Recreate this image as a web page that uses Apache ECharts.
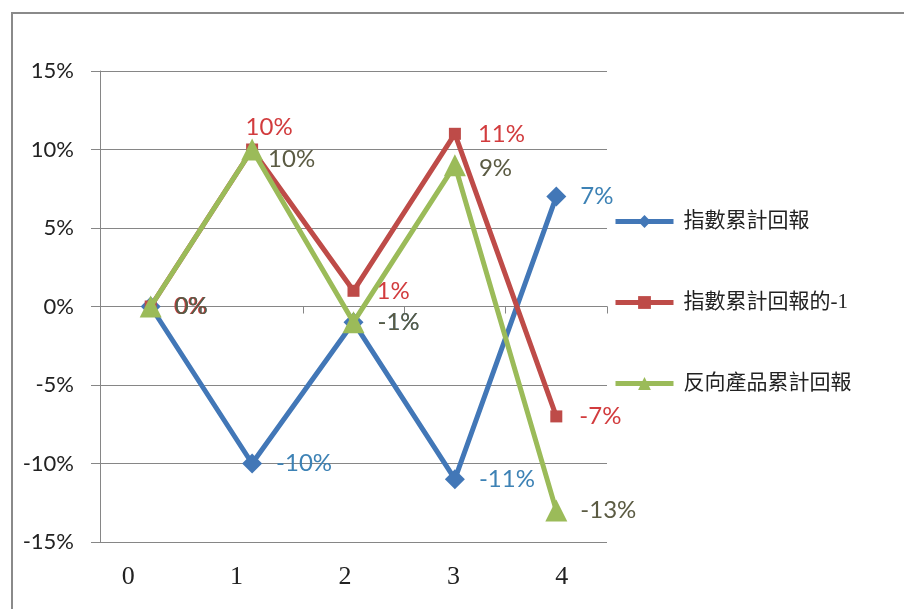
<!DOCTYPE html>
<html><head><meta charset="utf-8">
<script src="https://cdn.jsdelivr.net/npm/echarts@6/dist/echarts.min.js"></script>
<style>html,body{margin:0;padding:0;background:#fff}#c{width:904px;height:609px}</style>
</head><body><div id="c"></div>
<script>
const categories = ['0', '1', '2', '3', '4'];
const seriesNames = ['指數累計回報', '指數累計回報的-1', '反向產品累計回報'];
const indexReturn = [0, -10, -1, -11, 7];
const indexReturnNeg = [0, 10, 1, 11, -7];
const inverseReturn = [0, 10, -1, 9, -13];
const yTicks = [-15, -10, -5, 0, 5, 10, 15];

const chart = echarts.init(document.getElementById('c'));
const sansFont = 'Lato, "Noto Sans", sans-serif';
const serifFont = '"Liberation Serif", "Noto Sans CJK TC", serif';

function lbl(color, extra) {
  return Object.assign({
    show: true, position: 'right', distance: 14, color: color,
    fontFamily: sansFont, fontSize: 24, formatter: p => p.value + '%'
  }, extra || {});
}

chart.setOption({
  animation: false,
  backgroundColor: '#fff',
  graphic: [{
    type: 'rect', shape: { x: 12, y: 13, width: 1000, height: 700 },
    style: { fill: 'none', stroke: '#8a8a8a', lineWidth: 2 }, silent: true
  }],
  legend: {
    orient: 'vertical', left: 613, top: 211, padding: 0,
    itemWidth: 58, itemHeight: 16, itemGap: 60,
    lineStyle: { width: 5 },
    textStyle: { fontFamily: serifFont, fontSize: 21, color: '#222', padding: [0, 0, 0, 5] },
    data: seriesNames
  },
  grid: [
    { left: 100, right: 297, top: 71, bottom: 67 },
    { left: 74, right: 288, top: 71, bottom: 67 }
  ],
  xAxis: [
    {
      type: 'category', gridIndex: 0, data: categories, boundaryGap: true,
      axisLine: { onZero: true, lineStyle: { color: '#868686', width: 1 } },
      axisTick: { show: true, inside: false, length: 7, lineStyle: { color: '#868686' } },
      axisLabel: { show: false }
    },
    {
      type: 'category', gridIndex: 1, data: categories, boundaryGap: true,
      axisLine: { show: false }, axisTick: { show: false },
      axisLabel: { show: true, margin: 22, fontFamily: serifFont, fontSize: 26, color: '#222' }
    }
  ],
  yAxis: [
    {
      type: 'value', gridIndex: 0, min: yTicks[0], max: yTicks[yTicks.length - 1], interval: 5,
      axisLine: { show: true, lineStyle: { color: '#868686', width: 1 } },
      axisTick: { show: true, length: 9, lineStyle: { color: '#868686' } },
      splitLine: { show: true, lineStyle: { color: '#868686', width: 1 } },
      axisLabel: { margin: 26, fontFamily: sansFont, fontSize: 22, color: '#222', formatter: '{value}%' }
    },
    {
      type: 'value', gridIndex: 1, min: yTicks[0], max: yTicks[yTicks.length - 1], interval: 5,
      show: false
    }
  ],
  series: [
    {
      name: seriesNames[0], type: 'line', xAxisIndex: 0, yAxisIndex: 0,
      data: indexReturn, color: '#4277b7',
      lineStyle: { width: 5, color: '#4277b7' },
      symbol: 'diamond', symbolSize: 20, showAllSymbol: true,
      itemStyle: { color: '#4277b7' },
      label: lbl('#3d82b5', { distance: 14 }), z: 3
    },
    {
      name: seriesNames[1], type: 'line', xAxisIndex: 0, yAxisIndex: 0,
      data: indexReturnNeg.map((v, i) => i === 1 ? { value: v, label: { position: 'top', distance: 4, offset: [17, 0] } } : v),
      color: '#be4b48',
      lineStyle: { width: 5, color: '#be4b48' },
      symbol: 'rect', symbolSize: 12, showAllSymbol: true,
      itemStyle: { color: '#be4b48' },
      label: lbl('#d23c3e', { distance: 17 }), z: 4
    },
    {
      name: seriesNames[2], type: 'line', xAxisIndex: 0, yAxisIndex: 0,
      data: inverseReturn.map((v, i) => i === 1 ? { value: v, label: { offset: [-8, 10] } } : (i === 3 ? { value: v, label: { offset: [0, 3] } } : v)),
      color: '#9bbb59',
      lineStyle: { width: 5, color: '#9bbb59' },
      symbol: 'triangle', symbolSize: 22, showAllSymbol: true,
      itemStyle: { color: '#9bbb59' },
      label: lbl('#5b5b43', { distance: 13 }), z: 5
    }
  ]
});
</script></body></html>
